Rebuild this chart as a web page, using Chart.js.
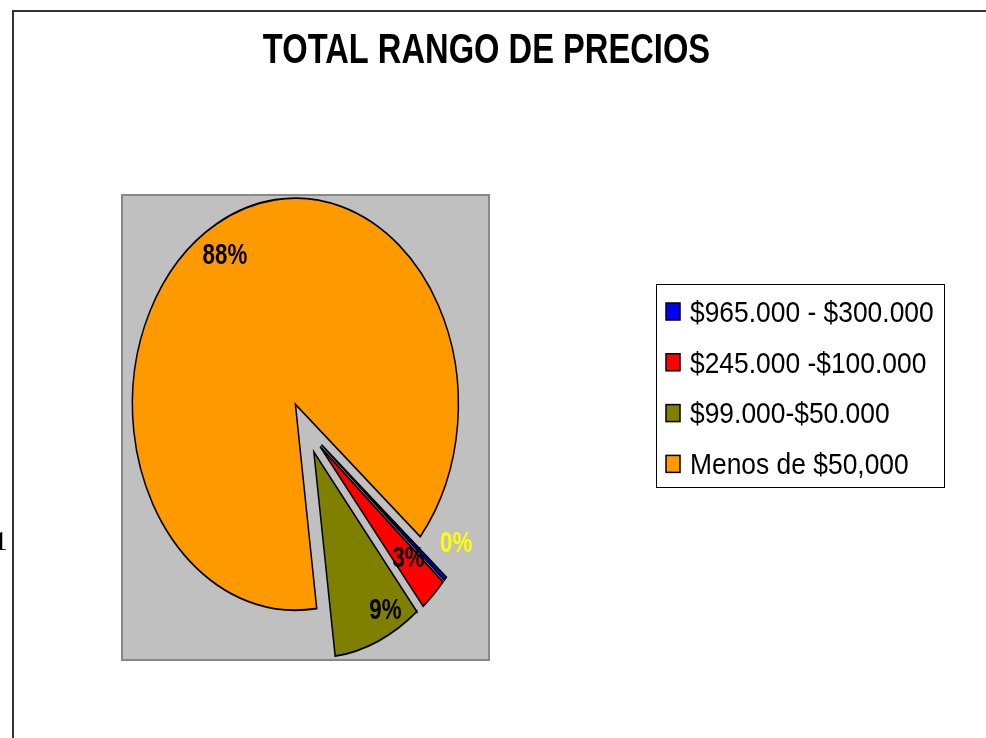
<!DOCTYPE html>
<html>
<head>
<meta charset="utf-8">
<title>TOTAL RANGO DE PRECIOS</title>
<script src="https://cdn.jsdelivr.net/npm/chart.js@4/dist/chart.umd.min.js"></script>
<style>
  html, body { margin: 0; padding: 0; background: #fff; overflow: hidden; }
  #wrap { position: relative; width: 986px; height: 738px; }
</style>
</head>
<body>
<div id="wrap"><canvas id="priceChart"></canvas></div>
<script>
'use strict';

const chartTitle = 'TOTAL RANGO DE PRECIOS';
const categories = ['$965.000 - $300.000', '$245.000 -$100.000', '$99.000-$50.000', 'Menos de $50,000'];
const shares = [0.3, 2.7, 8.8, 88.2];

// styling, kept apart from the data
const sliceColors = ['#0000FF', '#FF0000', '#808000', '#FF9900'];
const labelColors = ['#FFFF00', '#000000', '#000000', '#000000'];
const labelRadius = [0.95, 0.76, 0.88, 0.85];
const labelTurn = [-11, -1.5, -6.6, -1.8];

const STRETCH_Y = 1.264;   // the pie in the picture is taller than wide
const EXPLODE = 21;        // how far each slice is pulled out
const FONT = '"Liberation Sans", Arial, sans-serif';

// arc that is pulled out from the centre without growing (Excel style)
class ExplodedArc extends Chart.ArcElement {
  draw(ctx, area) {
    const mid = (this.startAngle + this.endAngle) / 2;
    ctx.save();
    ctx.translate(Math.cos(mid) * EXPLODE, Math.sin(mid) * EXPLODE);
    super.draw(ctx, area);
    ctx.restore();
  }
}
ExplodedArc.id = 'explodedArc';

class ExplodedPieController extends Chart.PieController {}
ExplodedPieController.id = 'explodedPie';
ExplodedPieController.defaults = { dataElementType: 'explodedArc' };

Chart.register(ExplodedArc, ExplodedPieController);

function drawSqueezed(ctx, text, x, y, squeeze, align) {
  ctx.save();
  ctx.translate(x, y);
  ctx.scale(squeeze, 1);
  ctx.textAlign = align;
  ctx.textBaseline = 'alphabetic';
  ctx.fillText(text, 0, 0);
  ctx.restore();
}

const backgroundPlugin = {
  id: 'background',
  beforeDraw(chart) {
    const { ctx, chartArea } = chart;
    ctx.save();
    ctx.fillStyle = '#333';
    ctx.fillRect(12, 10, 2, 738);
    ctx.fillRect(12, 10, 986, 2);

    ctx.fillStyle = '#C0C0C0';
    ctx.fillRect(chartArea.left, chartArea.top, chartArea.width, chartArea.height);
    ctx.strokeStyle = '#888';
    ctx.lineWidth = 2;
    ctx.strokeRect(chartArea.left, chartArea.top, chartArea.width, chartArea.height);

    ctx.fillStyle = '#000';
    ctx.font = '27px "Liberation Serif", serif';
    ctx.textAlign = 'left';
    ctx.fillText('1', -6, 550);
    ctx.restore();
  },
};

const stretchPlugin = {
  id: 'stretch',
  beforeDatasetsDraw(chart) {
    const { ctx, chartArea } = chart;
    const cx = (chartArea.left + chartArea.right) / 2;
    const cy = (chartArea.top + chartArea.bottom) / 2;
    ctx.save();
    ctx.translate(cx, cy);
    ctx.scale(1, STRETCH_Y);
    ctx.translate(-cx, -cy);
  },
  afterDatasetsDraw(chart) {
    chart.ctx.restore();
  },
};

const textPlugin = {
  id: 'texts',
  afterDraw(chart) {
    const { ctx } = chart;
    const meta = chart.getDatasetMeta(0);
    const total = shares.reduce((a, b) => a + b, 0);

    ctx.save();
    // title
    ctx.fillStyle = '#000';
    ctx.font = `bold 43px ${FONT}`;
    drawSqueezed(ctx, chartTitle, 486.5, 63, 0.76, 'center');

    // slice labels
    ctx.font = `bold 29px ${FONT}`;
    meta.data.forEach((arc, i) => {
      const mid = (arc.startAngle + arc.endAngle) / 2;
      const turn = mid + (labelTurn[i] * Math.PI) / 180;
      const r = arc.outerRadius * labelRadius[i];
      const dx = Math.cos(mid) * EXPLODE + Math.cos(turn) * r;
      const dy = (Math.sin(mid) * EXPLODE + Math.sin(turn) * r) * STRETCH_Y;
      const text = Math.round((shares[i] / total) * 100) + '%';
      ctx.fillStyle = labelColors[i];
      drawSqueezed(ctx, text, arc.x + dx, arc.y + dy + 29 * 0.358, 0.77, 'center');
    });

    // legend
    const box = { left: 656, top: 284, width: 288, height: 203 };
    ctx.strokeStyle = '#000';
    ctx.lineWidth = 1;
    ctx.strokeRect(box.left + 0.5, box.top + 0.5, box.width, box.height);
    ctx.font = `30px ${FONT}`;
    categories.forEach((label, i) => {
      const rowY = 311 + i * 50.8;
      ctx.fillStyle = sliceColors[i];
      ctx.fillRect(666, rowY - 8, 14, 17);
      ctx.strokeStyle = '#000';
      ctx.lineWidth = 1.5;
      ctx.strokeRect(666, rowY - 8, 14, 17);
      ctx.fillStyle = '#000';
      drawSqueezed(ctx, label, 690, rowY + 10.8, 0.88, 'left');
    });
    ctx.restore();
  },
};

const priceChart = new Chart(document.getElementById('priceChart'), {
  type: 'explodedPie',
  data: {
    labels: categories,
    datasets: [{
      data: shares,
      backgroundColor: sliceColors,
      borderColor: '#000',
      borderWidth: 1.5,
      borderJoinStyle: 'miter',
      radius: 163,
      clip: false,
    }],
  },
  options: {
    responsive: true,
    maintainAspectRatio: false,
    animation: false,
    events: [],
    rotation: 130,
    layout: { padding: { left: 122, top: 195, right: 497, bottom: 78 } },
    plugins: {
      legend: { display: false },
      title: { display: false },
      tooltip: { enabled: false },
    },
  },
  plugins: [backgroundPlugin, stretchPlugin, textPlugin],
});
</script>
</body>
</html>
